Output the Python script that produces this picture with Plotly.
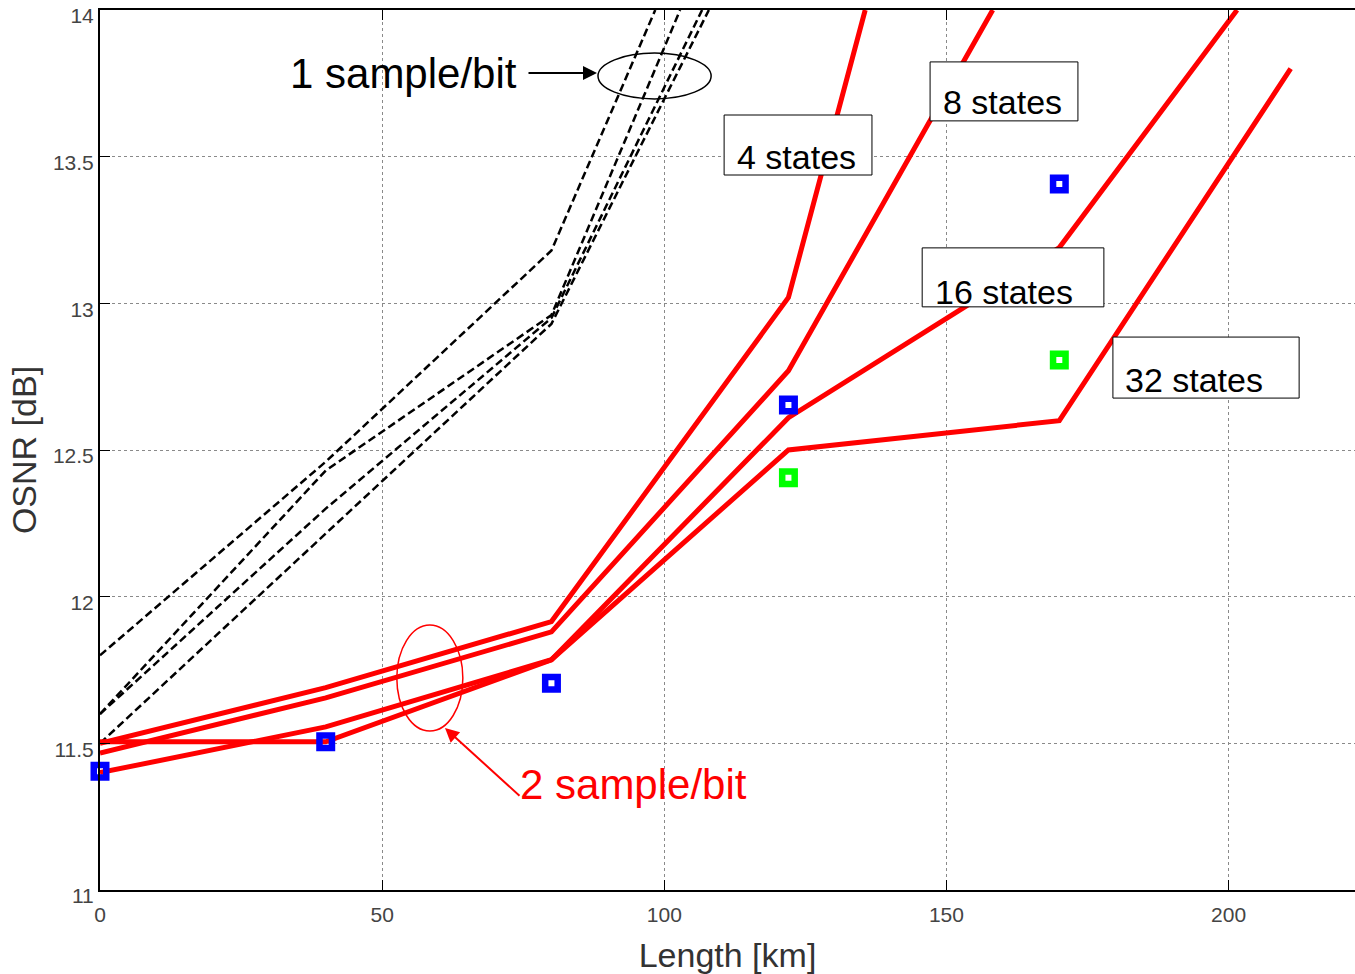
import plotly.graph_objects as go

# ---------------- data ----------------
# 2 sample/bit (red solid)
x_4states = [0, 40, 80, 122, 135.6]
y_4states = [11.50, 11.69, 11.915, 13.02, 14.0]
x_8states = [0, 40, 80, 122, 158.2]
y_8states = [11.467, 11.655, 11.88, 12.77, 14.0]
x_16states = [0, 40, 80, 122, 170, 201.5]
y_16states = [11.505, 11.505, 11.785, 12.61, 13.19, 14.0]
x_32states = [0, 40, 80, 122, 170, 211]
y_32states = [11.40, 11.556, 11.785, 12.50, 12.60, 13.80]

# 1 sample/bit (black dashed)
x_1s_a = [0, 40, 80, 98.4]
y_1s_a = [11.80, 12.46, 13.18, 14.0]
x_1s_b = [0, 40, 80, 102.8]
y_1s_b = [11.60, 12.43, 12.96, 14.0]
x_1s_c = [0, 40, 80, 106.7]
y_1s_c = [11.60, 12.30, 12.95, 14.0]
x_1s_d = [0, 80, 107.9]
y_1s_d = [11.50, 12.93, 14.0]

# measured points
blue_x = [0, 40, 80, 122, 170]
blue_y = [11.405, 11.505, 11.705, 12.653, 13.407]
green_x = [122, 170]
green_y = [12.405, 12.807]

x_ticks = [0, 50, 100, 150, 200]
y_ticks = [11, 11.5, 12, 12.5, 13, 13.5, 14]
y_tick_text = ["11", "11.5", "12", "12.5", "13", "13.5", "14"]

# ---------------- figure ----------------
fig = go.Figure()

for xs, ys in [(x_1s_a, y_1s_a), (x_1s_b, y_1s_b), (x_1s_c, y_1s_c), (x_1s_d, y_1s_d)]:
    fig.add_trace(go.Scatter(x=xs, y=ys, mode="lines",
                             line=dict(color="black", width=2.5, dash="8px,4px"),
                             showlegend=False, hoverinfo="skip"))

for xs, ys in [(x_4states, y_4states), (x_8states, y_8states),
               (x_16states, y_16states), (x_32states, y_32states)]:
    fig.add_trace(go.Scatter(x=xs, y=ys, mode="lines",
                             line=dict(color="#ff0000", width=5),
                             showlegend=False, hoverinfo="skip"))

fig.add_trace(go.Scatter(x=blue_x, y=blue_y, mode="markers", cliponaxis=False,
                         marker=dict(symbol="square-open", size=12.5, color="#0000ff",
                                     line=dict(width=6.5, color="#0000ff")),
                         showlegend=False))
fig.add_trace(go.Scatter(x=green_x, y=green_y, mode="markers", cliponaxis=False,
                         marker=dict(symbol="square-open", size=12.5, color="#00ff00",
                                     line=dict(width=6.5, color="#00ff00")),
                         showlegend=False))

tick_font = dict(family="Liberation Sans, Arial, sans-serif", size=21, color="#444444")
title_font = dict(family="Liberation Sans, Arial, sans-serif", size=34, color="#333333")

fig.update_xaxes(range=[0, 222.4], tickvals=x_ticks, ticktext=[str(v) for v in x_ticks],
                 showgrid=True, gridcolor="#8a8a8a", gridwidth=1, griddash="dot",
                 zeroline=False, showline=True, linecolor="black", linewidth=2,
                 mirror="allticks", ticks="inside", ticklen=10, tickcolor="black",
                 tickfont=tick_font, ticklabelstandoff=5,
                 title=dict(text="Length [km]", font=title_font, standoff=18),
                 automargin=False)
fig.update_yaxes(range=[11, 14], tickvals=y_ticks, ticktext=y_tick_text,
                 showgrid=True, gridcolor="#8a8a8a", gridwidth=1, griddash="dot",
                 zeroline=False, showline=True, linecolor="black", linewidth=2,
                 mirror=False, ticks="inside", ticklen=10, tickcolor="black",
                 tickfont=tick_font, ticklabelshift=6, ticklabeloverflow="allow",
                 title=dict(text="OSNR [dB]", font=title_font, standoff=6),
                 automargin=False)

# label boxes (drawn above traces)
boxes = [
    (110.6, 136.8, 13.4375, 13.642),
    (147.1, 173.3, 13.622, 13.823),
    (145.7, 177.9, 12.988, 13.189),
    (179.5, 212.5, 12.677, 12.885),
]
shapes = []
for x0, x1, y0, y1 in boxes:
    shapes.append(dict(type="rect", xref="x", yref="y", x0=x0, x1=x1, y0=y0, y1=y1,
                       fillcolor="white", line=dict(color="black", width=1), layer="above"))
# ellipses
shapes.append(dict(type="circle", xref="x", yref="y", x0=88.25, x1=108.3, y0=13.697, y1=13.853,
                   line=dict(color="black", width=1.5), layer="above"))
shapes.append(dict(type="circle", xref="x", yref="y", x0=52.6, x1=64.3, y0=11.542, y1=11.903,
                   line=dict(color="#ff0000", width=1.5), layer="above"))

label_font = dict(family="Liberation Sans, Arial, sans-serif", size=34, color="black")
big_font = dict(family="Liberation Sans, Arial, sans-serif", size=42, color="black")
annotations = [
    dict(x=112.5, y=13.499, text="4 states", showarrow=False, xanchor="left", yanchor="middle", font=label_font),
    dict(x=149.0, y=13.685, text="8 states", showarrow=False, xanchor="left", yanchor="middle", font=label_font),
    dict(x=147.6, y=13.04, text="16 states", showarrow=False, xanchor="left", yanchor="middle", font=label_font),
    dict(x=181.3, y=12.74, text="32 states", showarrow=False, xanchor="left", yanchor="middle", font=label_font),
    dict(x=33.4, y=13.785, text="1 sample/bit", showarrow=False, xanchor="left", yanchor="middle", font=big_font),
    dict(x=74.1, y=11.361, text="2 sample/bit", showarrow=False, xanchor="left", yanchor="middle",
         font=dict(family="Liberation Sans, Arial, sans-serif", size=42, color="#ff0000")),
    dict(x=88.07, y=13.785, ax=75.67, ay=13.785, axref="x", ayref="y", xref="x", yref="y",
         text="", showarrow=True, arrowhead=2, arrowsize=1.4, arrowwidth=2, arrowcolor="black"),
    dict(x=61.14, y=11.552, ax=74.6, ay=11.317, axref="x", ayref="y", xref="x", yref="y",
         text="", showarrow=True, arrowhead=2, arrowsize=1.4, arrowwidth=2, arrowcolor="#ff0000"),
]

fig.update_layout(width=1355, height=974, margin=dict(l=100, r=0, t=10, b=84),
                  paper_bgcolor="white", plot_bgcolor="white",
                  shapes=shapes, annotations=annotations, showlegend=False)

fig.write_html("out.html")
